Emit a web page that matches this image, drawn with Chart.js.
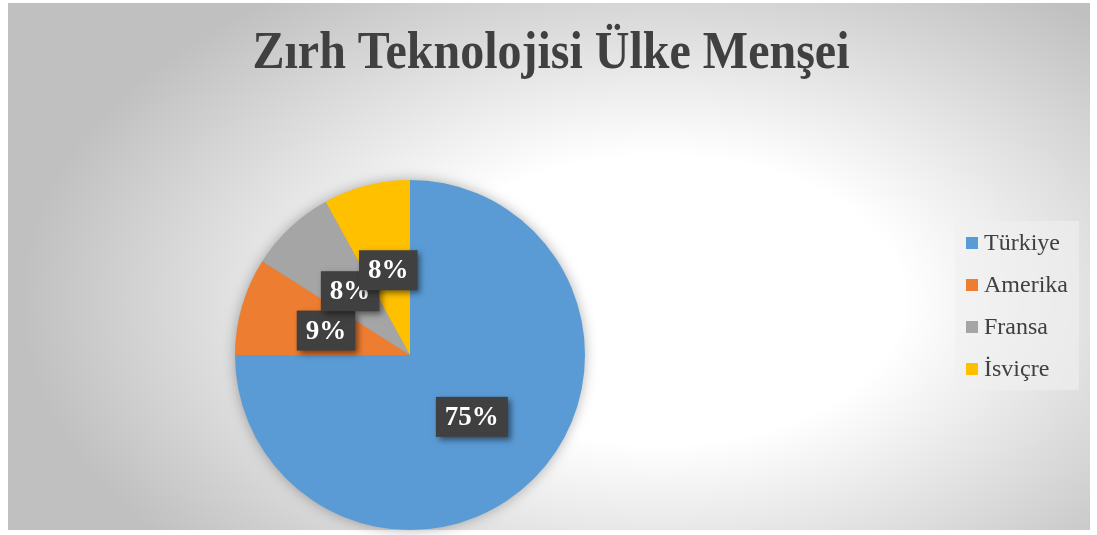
<!DOCTYPE html>
<html>
<head>
<meta charset="utf-8">
<script src="https://cdn.jsdelivr.net/npm/chart.js@4/dist/chart.umd.min.js"></script>
<style>
  html, body { margin: 0; padding: 0; background: #ffffff; }
  #wrap { width: 1097px; height: 535px; position: relative; }
</style>
</head>
<body>
<div id="wrap"><canvas id="pieChart"></canvas></div>
<script>
// Veriler
const chartTitle = 'Zırh Teknolojisi Ülke Menşei';
const countries = ['Türkiye', 'Amerika', 'Fransa', 'İsviçre'];
const shares = [75, 9, 8, 8];
const sliceColors = ['#5B9BD5', '#ED7D31', '#A5A5A5', '#FFC000'];

const serif = "'Times New Roman', 'Liberation Serif', serif";

// Arka plan, başlık, gölge, etiketler ve lejant
const decorPlugin = {
    id: 'decor',
    beforeDraw(chart) {
        const ctx = chart.ctx;
        ctx.save();
        ctx.fillStyle = '#ffffff';
        ctx.fillRect(0, 0, chart.width, chart.height);

        // eliptik radyal degrade
        const cx = 660, cy = 300, rx = 640, ry = 380;
        ctx.translate(cx, cy);
        ctx.scale(1, ry / rx);
        const g = ctx.createRadialGradient(0, 0, 0, 0, 0, rx);
        g.addColorStop(0, '#ffffff');
        g.addColorStop(0.38, '#ffffff');
        g.addColorStop(1, '#c0c0c0');
        ctx.fillStyle = g;
        const k = rx / ry;
        ctx.fillRect(8 - cx, (3 - cy) * k, 1082, 527 * k);
        ctx.restore();

        // başlık (Excel'deki gibi hafif dar)
        ctx.save();
        ctx.font = 'bold 52px ' + serif;
        ctx.fillStyle = '#404040';
        ctx.textAlign = 'center';
        ctx.textBaseline = 'alphabetic';
        const tw = ctx.measureText(chartTitle).width;
        const sx = Math.min(1, 597 / tw);
        ctx.translate(551, 68);
        ctx.scale(sx, 1);
        ctx.fillText(chartTitle, 0, 0);
        ctx.restore();
    },
    beforeDatasetsDraw(chart) {
        // pastanın altına yumuşak gölge
        const arc = chart.getDatasetMeta(0).data[0];
        if (!arc) return;
        const ctx = chart.ctx;
        ctx.save();
        ctx.shadowColor = 'rgba(0,0,0,0.35)';
        ctx.shadowBlur = 14;
        ctx.fillStyle = '#9a9a9a';
        ctx.beginPath();
        ctx.arc(arc.x, arc.y, arc.outerRadius - 1, 0, Math.PI * 2);
        ctx.fill();
        ctx.restore();
    },
    afterDatasetsDraw(chart) {
        const ctx = chart.ctx;
        const data = chart.data.datasets[0].data;
        const total = data.reduce((a, b) => a + b, 0);
        const meta = chart.getDatasetMeta(0);

        ctx.save();
        ctx.font = 'bold 27px ' + serif;
        ctx.textAlign = 'center';
        ctx.textBaseline = 'middle';
        meta.data.forEach((el, i) => {
            const p = el.tooltipPosition();
            const txt = Math.round(data[i] / total * 100) + '%';
            const w = ctx.measureText(txt).width + 18;
            const h = 40;
            ctx.save();
            ctx.shadowColor = 'rgba(0,0,0,0.5)';
            ctx.shadowBlur = 6;
            ctx.shadowOffsetX = 3;
            ctx.shadowOffsetY = 3;
            ctx.fillStyle = '#404040';
            ctx.fillRect(p.x - w / 2, p.y - h / 2, w, h);
            ctx.restore();
            ctx.fillStyle = '#ffffff';
            ctx.fillText(txt, p.x, p.y + 1);
        });
        ctx.restore();
    },
    afterDraw(chart) {
        // lejant
        const ctx = chart.ctx;
        const colors = chart.data.datasets[0].backgroundColor;
        ctx.save();
        ctx.fillStyle = 'rgba(240,240,240,0.6)';
        ctx.fillRect(955, 221, 124, 169);
        ctx.font = '24px ' + serif;
        ctx.textAlign = 'left';
        ctx.textBaseline = 'alphabetic';
        chart.data.labels.forEach((lab, i) => {
            const y = 250 + i * 42;
            ctx.fillStyle = colors[i];
            ctx.fillRect(966, y - 13, 12, 12);
            ctx.fillStyle = '#404040';
            ctx.fillText(lab, 984, y);
        });
        ctx.restore();
    }
};

const ctxPie = document.getElementById('pieChart').getContext('2d');
const pieChart = new Chart(ctxPie, {
    type: 'pie',
    data: {
        labels: countries,
        datasets: [{
            data: shares,
            backgroundColor: sliceColors,
            borderWidth: 0
        }]
    },
    options: {
        responsive: true,
        maintainAspectRatio: false,
        animation: false,
        layout: { padding: { left: 235, right: 512, top: 180, bottom: 5 } },
        plugins: {
            legend: { display: false },
            title: { display: false },
            tooltip: { enabled: false }
        }
    },
    plugins: [decorPlugin]
});
</script>
</body>
</html>
